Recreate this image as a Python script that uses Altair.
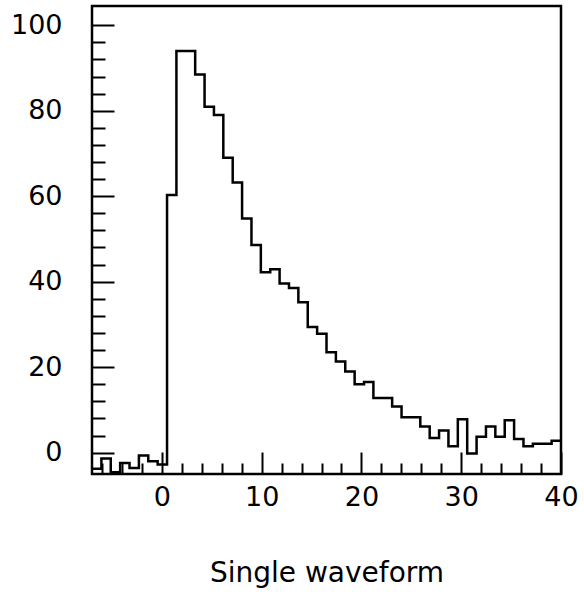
import altair as alt
import pandas as pd

# Histogram: 50 bins from -7 to 40
bin_start = -7.0
bin_end = 40.0
counts = [
    -3.8, -1.4, -4.6, -2.4, -3.6, -0.7, -2.0, -2.8,
    60.3, 94.0, 94.0, 88.5, 80.9, 79.0, 69.0, 63.2, 54.8, 48.6,
    42.2, 42.9, 39.6, 38.5, 35.2, 29.4, 27.8, 23.5, 21.3, 19.0,
    16.0, 16.5, 12.8, 12.8, 10.8, 8.3, 8.3, 6.1, 3.4, 5.2,
    1.5, 7.8, -0.2, 3.7, 6.1, 3.7, 7.6, 3.2, 1.5, 2.1, 2.1, 2.8,
]
x_major = [0, 10, 20, 30, 40]
x_minor = [-6, -4, -2, 2, 4, 6, 8, 12, 14, 16, 18, 22, 24, 26, 28, 32, 34, 36, 38]
y_major = [0, 20, 40, 60, 80, 100]
y_minor = [4, 8, 12, 16, 24, 28, 32, 36, 44, 48, 52, 56, 64, 68, 72, 76, 84, 88, 92, 96]
x_title = "Single waveform"

n = len(counts)
w = (bin_end - bin_start) / n
edges = [bin_start + i * w for i in range(n + 1)]
df = pd.DataFrame({"x": edges, "y": counts + [counts[-1]]})

FONT = "DejaVu Sans"
xs = alt.Scale(domain=[-7, 40], nice=False, zero=False)
ys = alt.Scale(domain=[-5, 104.5], nice=False, zero=False)

main = alt.Chart(df).mark_line(
    interpolate="step-after", color="black", strokeWidth=2.5
).encode(
    x=alt.X("x:Q", scale=xs, axis=alt.Axis(
        orient="bottom", values=x_major, tickSize=22, offset=-22, tickWidth=2,
        tickColor="black", domain=False, grid=False, labelPadding=10,
        labelFont=FONT, labelFontSize=27, labelColor="black",
        title=x_title, titleFont=FONT, titleFontSize=28, titleFontWeight="normal",
        titleColor="black", titlePadding=49, labelFlush=False)),
    y=alt.Y("y:Q", scale=ys, axis=alt.Axis(
        orient="left", values=y_major, tickSize=22, offset=-22, tickWidth=2,
        tickColor="black", domain=False, grid=False, labelPadding=30,
        labelFont=FONT, labelFontSize=27, labelColor="black", title=None,
        labelFlush=False)),
)

minor = alt.Chart(df).mark_line(opacity=0).encode(
    x=alt.X("x:Q", scale=xs, axis=alt.Axis(
        orient="bottom", values=x_minor, tickSize=11, offset=-11, tickWidth=2,
        tickColor="black", domain=False, grid=False, labels=False, title=None)),
    y=alt.Y("y:Q", scale=ys, axis=alt.Axis(
        orient="left", values=y_minor, tickSize=13, offset=-13, tickWidth=2,
        tickColor="black", domain=False, grid=False, labels=False, title=None)),
)

chart = alt.layer(main, minor).resolve_axis(
    x="independent", y="independent"
).properties(
    width=469, height=468, autosize="none",
    padding={"left": 92, "top": 6, "right": 23, "bottom": 121},
).configure_view(stroke="black", strokeWidth=2.5)

chart.save("out.html", embed_options={"renderer": "svg", "actions": False})
